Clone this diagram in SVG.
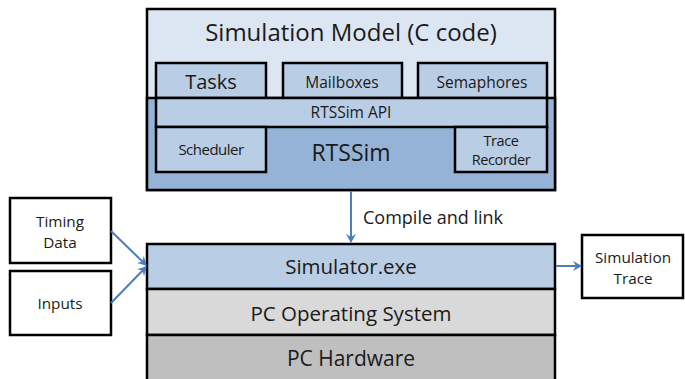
<svg xmlns="http://www.w3.org/2000/svg" width="685" height="379" viewBox="0 0 685 379">
<defs>
<marker id="ah" markerWidth="10" markerHeight="10" refX="8" refY="5" orient="auto" markerUnits="userSpaceOnUse">
<path d="M0,0 L9,5 L0,10 L3,5 Z" fill="#4a7ebb"/>
</marker>
<style>
text{font-family:"Open Sans","Liberation Sans",sans-serif;fill:#1a1a1a;text-anchor:middle}
.b{stroke:#000;stroke-width:2.5}
.c{stroke:#4a7ebb;stroke-width:2;fill:none;marker-end:url(#ah)}
</style>
</defs>
<g id="simulation-model">
<rect class="b" x="147" y="9" width="408" height="181" fill="#dce6f2"/>
<rect class="b" x="147" y="98" width="408" height="92" fill="#95b3d7"/>
<text x="351" y="41" font-size="24">Simulation Model (C code)</text>
</g>
<g id="tasks"><rect class="b" x="156" y="63" width="110" height="35" fill="#b9cde5"/><text x="211" y="89" font-size="20">Tasks</text></g>
<g id="mailboxes"><rect class="b" x="283" y="63" width="119" height="35" fill="#b9cde5"/><text x="342" y="88" font-size="15.5">Mailboxes</text></g>
<g id="semaphores"><rect class="b" x="418" y="63" width="129" height="35" fill="#b9cde5"/><text x="482" y="88" font-size="15.5">Semaphores</text></g>
<g id="rtssim-api"><rect class="b" x="156" y="98" width="391" height="29" fill="#b9cde5"/><text x="351" y="118" font-size="15.5">RTSSim API</text></g>
<g id="scheduler"><rect class="b" x="156" y="127" width="110" height="45" fill="#b9cde5"/><text x="211" y="155" font-size="15" letter-spacing="-0.5">Scheduler</text></g>
<g id="rtssim"><text x="351" y="161" font-size="23">RTSSim</text></g>
<g id="trace-recorder"><rect class="b" x="455" y="127" width="92" height="45" fill="#b9cde5"/><text x="501" y="146" font-size="14.5" letter-spacing="-0.4">Trace</text><text x="501" y="165" font-size="14.5" letter-spacing="-0.4">Recorder</text></g>
<g id="simulator"><rect class="b" x="147" y="244" width="408" height="45" fill="#b9cde5"/><text x="351" y="274" font-size="20.5">Simulator.exe</text></g>
<g id="pc-os"><rect class="b" x="147" y="289" width="408" height="46" fill="#d9d9d9"/><text x="351" y="321" font-size="20.5">PC Operating System</text></g>
<g id="pc-hw"><rect class="b" x="147" y="335" width="408" height="46" fill="#bfbfbf"/><text x="351" y="366" font-size="21">PC Hardware</text></g>
<g id="timing-data"><rect class="b" x="10" y="198" width="101" height="65" fill="#fff"/><text x="60" y="227" font-size="15.3">Timing</text><text x="60" y="248" font-size="15.3">Data</text></g>
<g id="inputs"><rect class="b" x="10" y="271" width="101" height="64" fill="#fff"/><text x="60" y="309" font-size="15.3">Inputs</text></g>
<g id="simulation-trace"><rect class="b" x="582" y="235" width="101" height="63" fill="#fff"/><text x="633" y="263" font-size="15.3">Simulation</text><text x="633" y="284" font-size="15.3">Trace</text></g>
<g id="connectors">
<line class="c" x1="351" y1="191" x2="351" y2="242"/>
<line class="c" x1="111" y1="231" x2="146" y2="265"/>
<line class="c" x1="111" y1="303" x2="146" y2="267"/>
<line class="c" x1="556" y1="266" x2="581" y2="266"/>
<text x="363" y="224" font-size="18" style="text-anchor:start">Compile and link</text>
</g>
</svg>
